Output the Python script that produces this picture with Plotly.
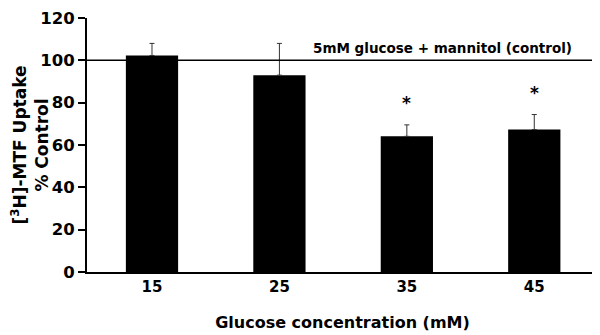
import plotly.graph_objects as go

categories = ["15", "25", "35", "45"]
uptake = [102.3, 93, 64.1, 67.3]
sem = [5.7, 15, 5.4, 7.1]
significant = [False, False, True, True]
control_level = 100
control_label = "5mM glucose + mannitol (control)"
y_ticks = [0, 20, 40, 60, 80, 100, 120]

font_family = "DejaVu Sans, Liberation Sans, Arial, sans-serif"

fig = go.Figure()
fig.add_trace(go.Bar(
    x=categories, y=uptake,
    marker=dict(color="black", line=dict(width=0)),
    width=0.41,
    error_y=dict(type="data", array=sem, arrayminus=[0] * len(sem), symmetric=False,
                 color="#333", thickness=1, width=2.5),
))

for i, (v, e, s) in enumerate(zip(uptake, sem, significant)):
    if s:
        fig.add_annotation(x=i, y=v + e, xref="x", yref="y", text="<b>*</b>", showarrow=False,
                           yanchor="middle", yshift=22,
                           font=dict(family=font_family, size=17, color="black"))

fig.add_shape(type="line", xref="paper", yref="y", x0=0, x1=1,
              y0=control_level, y1=control_level, line=dict(color="black", width=1.5))

fig.add_annotation(x=3.31, y=control_level, xref="x", yref="y", text="<b>" + control_label + "</b>",
                   showarrow=False, xanchor="right", yanchor="bottom", yshift=2,
                   font=dict(family=font_family, size=13.5, color="black"))

fig.update_layout(
    width=600, height=335,
    margin=dict(l=79, r=10, t=10, b=71),
    plot_bgcolor="white", paper_bgcolor="white",
    showlegend=False,
    font=dict(family=font_family, color="black", size=14),
)
fig.update_xaxes(
    range=[-0.51, 3.5], showline=True, linecolor="black", linewidth=2,
    ticks="", showgrid=False, tickfont=dict(size=15, weight="bold"), automargin=False,
    title=dict(text="<b>Glucose concentration (mM)</b>", font=dict(size=16), standoff=22),
)
fig.update_yaxes(
    range=[0, 120], tickvals=y_ticks, showline=True, linecolor="black", linewidth=2,
    ticks="outside", ticklen=7, tickwidth=2, tickcolor="black", showgrid=False, zeroline=False,
    tickfont=dict(size=16.5, weight="bold"), automargin=False, ticklabeloverflow="allow",
    title=dict(text="<b>[<sup>3</sup>H]-MTF Uptake<br>% Control</b>", font=dict(size=17), standoff=6),
)

fig.write_html("out.html")
